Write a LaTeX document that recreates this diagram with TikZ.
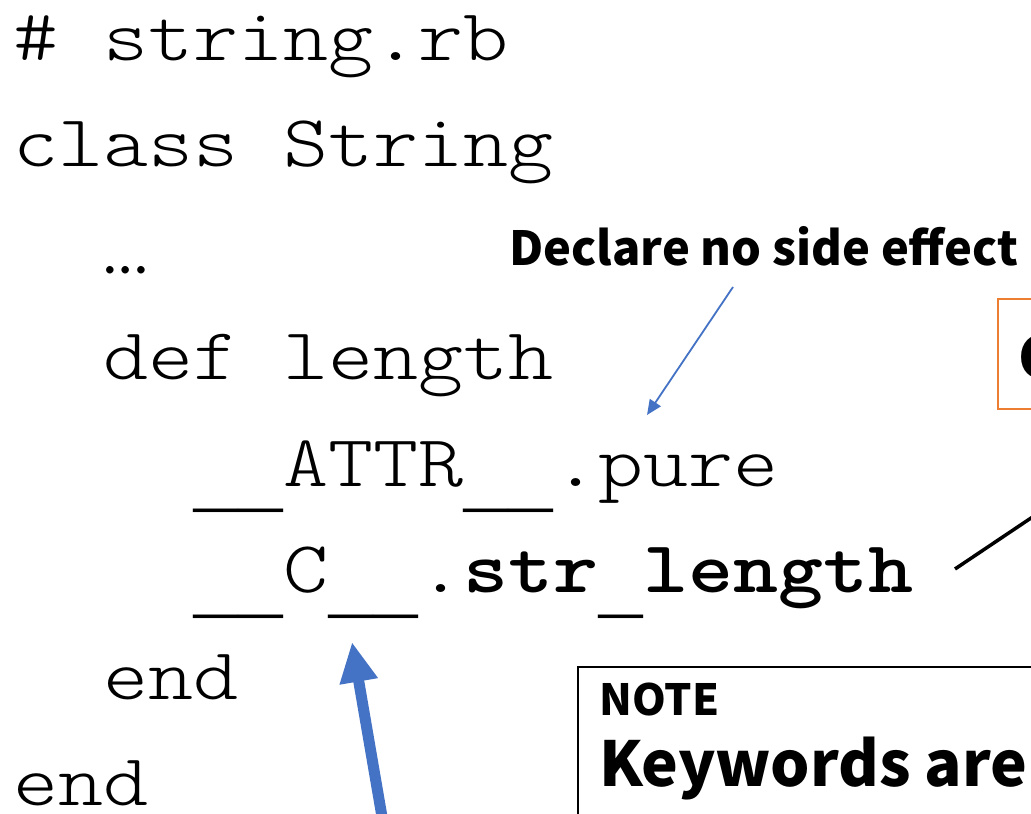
\documentclass[tikz,border=0pt]{standalone}
\usepackage{fontspec}
\usetikzlibrary{arrows.meta}
\newfontfamily\codefont{lmmonolt10}[Extension=.otf, UprightFont=*-regular, BoldFont=*-bold, FakeStretch=1.17]
\newfontfamily\uscorefont{Liberation Mono}
\newfontfamily\labelfont{Noto Sans CJK JP}
\newfontfamily\dotsfont{Carlito}
% full-cell underscores, same advance as the code font
\newcommand\uscore{\raisebox{-18pt}{\uscorefont\fontsize{75}{75}\selectfont\_}}
\newcommand\uscorebf{\raisebox{-18pt}{\uscorefont\bfseries\fontsize{75}{75}\selectfont\_}}
\definecolor{accentblue}{HTML}{4472C4}
\definecolor{accentorange}{HTML}{ED7D31}
\tikzset{
  code/.style={anchor=base west, inner sep=0pt, font=\codefont\fontsize{73.3}{73.3}\selectfont},
  codebold/.style={code, font=\codefont\bfseries\fontsize{73.3}{73.3}\selectfont},
  ellipsisline/.style={anchor=base west, inner sep=0pt, font=\dotsfont\fontsize{62}{62}\selectfont},
  callout/.style={anchor=base west, inner sep=0pt, font=\labelfont\bfseries\fontsize{47}{47}\selectfont},
  notehead/.style={anchor=base west, inner sep=0pt, font=\labelfont\bfseries\fontsize{43}{43}\selectfont},
  notebody/.style={anchor=base west, inner sep=0pt, font=\labelfont\bfseries\fontsize{62}{62}\selectfont},
  thinarrow/.style={draw=accentblue, line width=1.8pt, -{Triangle[length=15pt,width=13pt]}},
  thickarrow/.style={draw=accentblue, line width=11pt, -{Triangle[length=40pt,width=36pt]}},
}
\begin{document}
\begin{tikzpicture}[x=1pt,y=-1pt]
\useasboundingbox (0,0) rectangle (1031,814);
\clip (0,0) rectangle (1031,814);
\fill[white] (0,0) rectangle (1031,814);

% Ruby source listing
\node[code] (l1) at (13,60) {\# string.rb};
\node[code] (l2) at (13,166.5) {class String};
\node[ellipsisline] (l3) at (104,273) {…};
\node[code] (l4) at (103,379.5) {def length};
\node[code] (l5) at (193,486) {\uscore\uscore ATTR\uscore\uscore.pure};
\node[code] (l6) at (193,592.5) {\uscore\uscore C\uscore\uscore.};
\node[codebold] (l6b) at (l6.base east) {str\uscorebf length};
\node[code] (l7) at (103,699) {end};
\node[code] (l8) at (13,805.5) {end};

% annotation for the attribute line
\node[callout] (pure) at (509,265) {Declare no side effect};
\coordinate (pureFrom) at (733,287);
\coordinate (pureTo) at (647,415);
\draw[thinarrow] (pureFrom) -- (pureTo);

% orange box for the C call
\node[draw=accentorange, line width=2pt, anchor=north west, minimum width=300pt,
      minimum height=110pt, inner sep=0pt] (cbox) at (997,298) {};
\node[anchor=base west, inner sep=0pt, font=\labelfont\bfseries\fontsize{58}{58}\selectfont]
      (ctext) at (1018,378) {C};
\coordinate (lenFrom) at (955,569);
\coordinate (lenTo) at (1195,408);
\draw[line width=3.5pt] (lenFrom) -- (lenTo);

% note box
\node[draw=black, line width=2pt, anchor=north west, minimum width=600pt,
      minimum height=300pt, inner sep=0pt] (note) at (577,666) {};
\node[notehead] (notetitle) at (599,715) {NOTE};
\node[notebody] (notetext) at (599,786) {Keywords are};

% arrow pointing at the __C__ receiver
\coordinate (cTail) at (386,840);
\coordinate (cTip) at (352,642);
\draw[thickarrow] (cTail) -- (cTip);
\end{tikzpicture}
\end{document}
